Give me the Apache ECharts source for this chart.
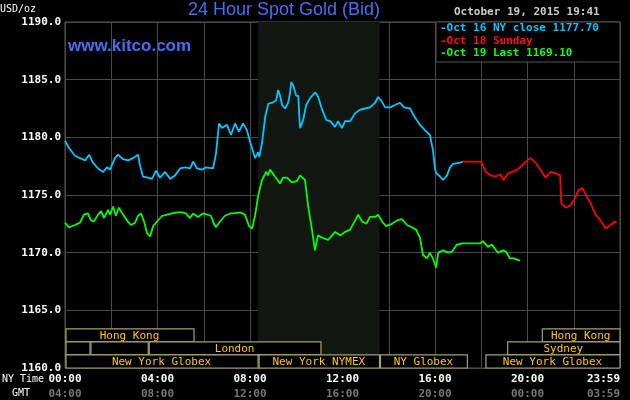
<!DOCTYPE html>
<html><head><meta charset="utf-8">
<script src="https://cdn.jsdelivr.net/npm/echarts@6/dist/echarts.min.js"></script>
<style>html,body{margin:0;background:#000;}#c{width:630px;height:400px;}</style>
</head><body><div id="c"></div>
<script>
var blueT=[0,0.17,0.43,0.65,0.87,1.04,1.21,1.43,1.65,1.82,1.95,2.16,2.29,2.51,2.73,2.94,3.16,3.24,3.37,3.59,3.76,3.94,4.11,4.33,4.55,4.76,4.98,5.2,5.41,5.54,5.71,5.93,6.1,6.4,6.53,6.66,6.79,7.0,7.18,7.35,7.52,7.7,7.87,8.05,8.22,8.35,8.4,8.52,8.66,8.79,8.96,9.13,9.22,9.3,9.39,9.52,9.65,9.73,9.78,9.87,10.0,10.09,10.13,10.17,10.3,10.43,10.6,10.82,10.95,11.12,11.3,11.47,11.68,11.81,11.98,12.11,12.33,12.55,12.76,12.98,13.19,13.41,13.54,13.67,13.84,14.06,14.27,14.49,14.66,14.92,15.14,15.35,15.57,15.78,15.91,16.0,16.05,16.22,16.35,16.52,16.65,16.78,17.08,17.2];
var blueV=[1179.7,1179.1,1178.4,1178.2,1178.0,1178.5,1177.8,1177.3,1177.0,1177.4,1177.2,1178.2,1178.5,1178.1,1178.0,1178.2,1178.5,1177.6,1176.6,1176.5,1176.4,1177.1,1176.5,1177.0,1176.4,1176.7,1177.3,1177.4,1177.3,1177.9,1177.3,1177.2,1177.4,1177.3,1178.6,1181.2,1180.8,1181.1,1180.2,1181.2,1180.5,1181.2,1180.6,1179.3,1178.2,1178.7,1178.3,1179.5,1181.8,1182.9,1183.0,1183.2,1184.1,1183.6,1182.8,1182.5,1183.0,1183.8,1184.8,1184.5,1183.6,1183.6,1181.9,1180.8,1181.5,1182.8,1183.4,1183.9,1183.5,1182.4,1181.5,1181.4,1180.9,1181.4,1180.8,1181.4,1181.4,1182.1,1182.4,1182.5,1182.6,1183.0,1183.5,1183.2,1182.6,1182.6,1182.8,1183.0,1182.6,1182.5,1181.7,1181.1,1180.6,1180.2,1178.9,1177.3,1176.9,1176.6,1176.3,1176.7,1177.4,1177.7,1177.8,1177.9];
var redT=[17.2,18.0,18.2,18.42,18.64,18.83,18.96,19.18,19.35,19.57,19.78,20.0,20.13,20.35,20.56,20.78,21.0,21.2,21.41,21.46,21.65,21.86,22.03,22.2,22.38,22.55,22.73,22.94,23.16,23.38,23.59,23.77,23.85];
var redV=[1177.9,1177.9,1177.0,1176.7,1176.6,1176.8,1176.3,1176.9,1177.0,1177.2,1177.6,1178.0,1178.2,1177.8,1177.2,1176.5,1177.0,1176.9,1176.7,1174.3,1173.9,1174.1,1174.6,1175.4,1175.6,1174.9,1174.3,1173.3,1172.8,1172.1,1172.4,1172.7,1172.6];
var greenT=[0,0.17,0.43,0.65,0.82,0.99,1.12,1.25,1.43,1.56,1.69,1.86,1.95,2.08,2.2,2.33,2.51,2.68,2.85,3.03,3.16,3.29,3.42,3.55,3.68,3.81,3.98,4.2,4.41,4.63,4.85,5.06,5.23,5.4,5.54,5.75,5.97,6.31,6.44,6.53,6.7,6.92,7.14,7.31,7.57,7.78,7.96,8.09,8.22,8.35,8.52,8.7,8.78,8.87,9.08,9.3,9.43,9.6,9.81,10.03,10.16,10.38,10.51,10.68,10.81,10.94,11.12,11.38,11.55,11.68,11.9,12.11,12.33,12.55,12.68,12.85,13.03,13.19,13.41,13.54,13.71,13.88,14.14,14.36,14.57,14.79,15.0,15.18,15.35,15.48,15.65,15.78,15.91,16.0,16.05,16.14,16.35,16.57,16.74,16.95,17.17,17.94,18.07,18.29,18.46,18.72,18.94,19.07,19.24,19.42,19.55,19.68];
var greenV=[1172.6,1172.2,1172.4,1172.6,1173.3,1173.4,1172.8,1172.7,1173.3,1173.6,1173.0,1173.7,1173.3,1174.0,1173.2,1173.9,1173.3,1172.8,1172.4,1172.6,1173.2,1173.4,1172.7,1171.7,1171.4,1172.3,1172.7,1173.2,1173.3,1173.4,1173.5,1173.5,1173.4,1173.0,1173.4,1173.1,1173.4,1173.2,1172.5,1172.2,1172.7,1173.2,1173.4,1173.4,1173.5,1173.3,1172.3,1172.1,1173.2,1174.9,1176.3,1177.0,1176.7,1177.2,1176.6,1176.0,1176.5,1176.5,1176.1,1176.2,1176.7,1176.3,1174.1,1172.0,1170.2,1171.5,1171.3,1171.1,1171.5,1171.8,1171.5,1171.8,1172.0,1172.8,1173.3,1172.7,1172.5,1173.1,1173.1,1173.3,1172.7,1172.3,1172.5,1172.8,1172.9,1172.4,1172.2,1172.0,1171.3,1169.8,1169.5,1170.0,1169.5,1169.0,1168.7,1170.0,1170.2,1170.0,1170.1,1170.7,1170.8,1170.8,1171.0,1170.5,1170.7,1170.0,1170.2,1170.1,1169.5,1169.5,1169.4,1169.3];
var nyLabels=['00:00','04:00','08:00','12:00','16:00','20:00','23:59'];
var gmtLabels=['04:00','08:00','12:00','16:00','20:00','00:00','03:59'];
var sessions=[[0,5.58,0,'Hong Kong'],[20.6,24,0,'Hong Kong'],[0,1.08,1,''],[1.08,3.6,1,''],[3.6,11.07,1,'London'],[19.1,24,1,'Sydney'],[0,8.35,2,'New York Globex'],[8.35,13.6,2,'New York NYMEX'],[13.6,17.4,2,'NY Globex'],[18.16,24,2,'New York Globex']];
var nymexShade=[8.35,13.6];
var legendItems=[['Oct 16 NY close 1177.70','#00c8ff'],['Oct 18 Sunday','#ff1010'],['Oct 19 Last 1169.10','#10ff10']];

function pairs(t,v){return t.map(function(x,i){return [x,v[i]];});}
var mono='"DejaVu Sans Mono", monospace';
var chart=echarts.init(document.getElementById('c'));
var rowH=1.13;
var g=[
    {type:'rect',shape:{x:65,y:22,width:555,height:346},style:{fill:'none',stroke:'#555'},z:-1},
    {type:'text',left:0,top:4,style:{text:'USD/oz',fill:'#fff',font:'10px '+mono}},
    {type:'text',left:2,top:374,style:{text:'NY Time',fill:'#fff',font:'10px '+mono}},
    {type:'text',left:12,top:388,style:{text:'GMT',fill:'#fff',font:'10px '+mono}},
    {type:'text',left:188,top:1,style:{text:'24 Hour Spot Gold (Bid)',fill:'#4a6df5',font:'18px "Liberation Sans", Arial'}},
    {type:'text',left:68,top:38,style:{text:'www.kitco.com',fill:'#4a6df5',font:'bold 17px "Liberation Sans", Arial'}},
    {type:'text',left:454,top:7,style:{text:'October 19, 2015 19:41',fill:'#ccc',font:'bold 11px '+mono}},
    {type:'rect',shape:{x:436,y:22,width:184,height:40},style:{fill:'#000',stroke:'#555'},z:10}
];
legendItems.forEach(function(it,i){g.push({type:'text',left:440,top:23+i*12.5,z:12,style:{text:'-'+it[0],fill:it[1],font:'bold 11px '+mono}});});
chart.setOption({
  backgroundColor:'#000',animation:false,
  grid:{left:65,right:10,top:22,bottom:32,outerBoundsMode:'none',containLabel:false},
  xAxis:{type:'value',min:0,max:24,interval:2,
    axisLine:{show:false},axisTick:{show:false},
    splitLine:{show:true,lineStyle:{color:'#4a4a4a',width:1}},
    axisLabel:{margin:4,hideOverlap:false,alignMaxLabel:'right',formatter:function(v){if(v%4!==0&&v!==24)return '';var i=v===24?6:v/4;return '{a|'+nyLabels[i]+'}\n{b|'+gmtLabels[i]+'}';},
      rich:{a:{color:'#fff',fontFamily:mono,fontWeight:'bold',fontSize:11,lineHeight:15},b:{color:'#777',fontFamily:mono,fontWeight:'bold',fontSize:11,lineHeight:15}}}},
  yAxis:{type:'value',min:1160,max:1190,interval:5,
    axisLine:{show:false},axisTick:{show:false},
    splitLine:{lineStyle:{color:'#4a4a4a'}},
    axisLabel:{color:'#fff',fontFamily:mono,fontWeight:'bold',fontSize:11,margin:4,formatter:function(v){return v.toFixed(1);}}},
  graphic:g,
  series:[
    {type:'line',data:pairs(blueT,blueV),showSymbol:false,lineStyle:{color:'#00c8ff',width:1.8},
      markArea:{silent:true,itemStyle:{color:'#121712'},data:[[{xAxis:nymexShade[0]},{xAxis:nymexShade[1]}]]},z:3},
    {type:'line',data:pairs(redT,redV),showSymbol:false,lineStyle:{color:'#ff0000',width:1.8},z:3},
    {type:'line',data:pairs(greenT,greenV),showSymbol:false,lineStyle:{color:'#00ff00',width:1.8},z:3},
    {type:'custom',z:4,data:sessions,renderItem:function(p,api){
      var s=api.value(0),e=api.value(1),r=api.value(2);
      var top=1160+(3-r)*rowH;
      var a=api.coord([s,top]),b=api.coord([e,top-rowH]);
      var lab=sessions[p.dataIndex][3];
      return {type:'group',children:[
        {type:'rect',shape:{x:a[0]+1,y:a[1],width:b[0]-a[0]-1,height:b[1]-a[1]},style:{fill:'#000',stroke:'#a8a070',lineWidth:1.2}},
        {type:'text',style:{text:lab,x:(a[0]+b[0])/2,y:(a[1]+b[1])/2+1,align:'center',verticalAlign:'middle',fill:'#ffc800',font:'11px '+mono}}]};
    }}
  ]
});
</script></body></html>
